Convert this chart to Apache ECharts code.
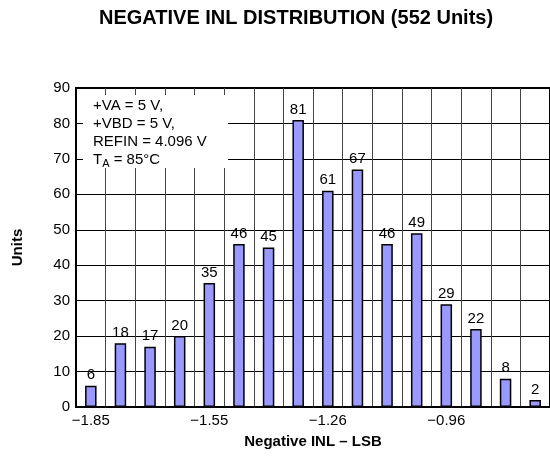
<!DOCTYPE html>
<html>
<head>
<meta charset="utf-8">
<script src="https://cdn.jsdelivr.net/npm/echarts@6/dist/echarts.min.js"></script>
<style>
  html, body { margin: 0; padding: 0; background: #fff; }
  #chart { width: 550px; height: 456px; }
</style>
</head>
<body>
<div id="chart"></div>
<script>
// Histogram bins of negative INL (LSB) and unit counts per bin
const binCenters = ['−1.85', '−1.78', '−1.70', '−1.63', '−1.55', '−1.48', '−1.41', '−1.33',
                    '−1.26', '−1.18', '−1.11', '−1.03', '−0.96', '−0.89', '−0.81', '−0.74'];
const unitCounts = [6, 18, 17, 20, 35, 46, 45, 81, 61, 67, 46, 49, 29, 22, 8, 2];
const yTicks = { min: 0, max: 90, step: 10 };
const conditions = ['+VA = 5 V,', '+VBD = 5 V,', 'REFIN = 4.096 V'];
const tempLine = { sym: 'T', sub: 'A', rest: ' = 85°C' };

const FONT = '"Liberation Sans", Arial, Helvetica, sans-serif';
const chart = echarts.init(document.getElementById('chart'), null, { renderer: 'canvas' });

const noteLines = conditions.map(s => '{t|' + s + '}')
  .concat(['{t|' + tempLine.sym + '}{s|' + tempLine.sub + '}{t|' + tempLine.rest + '}'])
  .join('\n');

chart.setOption({
  animation: false,
  backgroundColor: '#fff',
  textStyle: { fontFamily: FONT, color: '#000' },
  title: {
    text: 'NEGATIVE INL DISTRIBUTION (552 Units)',
    left: 94,
    top: 3,
    textStyle: { fontFamily: FONT, fontSize: 20, fontWeight: 'bold', color: '#000' }
  },
  grid: {
    left: 76, top: 88, width: 477, height: 319,
    show: true, borderColor: '#000', borderWidth: 2, backgroundColor: 'transparent'
  },
  xAxis: {
    type: 'category',
    data: binCenters,
    boundaryGap: true,
    name: 'Negative INL – LSB',
    nameLocation: 'middle',
    nameGap: 27,
    nameTextStyle: { fontFamily: FONT, fontSize: 15, fontWeight: 'bold', color: '#000' },
    axisLine: { show: true, lineStyle: { color: '#000', width: 2 } },
    axisTick: { show: false },
    axisLabel: { interval: 3, margin: 6, fontFamily: FONT, fontSize: 15, color: '#000' },
    splitLine: { show: true, interval: 0, lineStyle: { color: '#444', width: 1 } }
  },
  yAxis: {
    type: 'value',
    min: yTicks.min, max: yTicks.max, interval: yTicks.step,
    name: 'Units',
    nameLocation: 'middle',
    nameGap: 51,
    nameTextStyle: { fontFamily: FONT, fontSize: 15, fontWeight: 'bold', color: '#000' },
    axisLine: { show: true, lineStyle: { color: '#000', width: 2 } },
    axisTick: { show: false },
    axisLabel: { margin: 6, fontFamily: FONT, fontSize: 15, color: '#000' },
    splitLine: { show: true, lineStyle: { color: '#000', width: 1 } }
  },
  graphic: [
    {
      type: 'rect',
      shape: { x: 83, y: 95, width: 145, height: 73 },
      style: { fill: '#fff' },
      z: 5
    },
    {
      type: 'text',
      x: 93, y: 97,
      z: 6,
      style: {
        text: noteLines,
        fill: '#000',
        font: '15px ' + FONT,
        rich: {
          t: { fontFamily: FONT, fontSize: 15, lineHeight: 18, fill: '#000', color: '#000' },
          s: { fontFamily: FONT, fontSize: 11, lineHeight: 18, padding: [8, 0, 0, 0], verticalAlign: 'bottom', color: '#000' }
        }
      }
    }
  ],
  series: [{
    type: 'bar',
    data: unitCounts,
    barWidth: 11.5,
    z: 10,
    itemStyle: { color: '#9999ff', borderColor: '#000', borderWidth: 1.5 },
    label: {
      show: true, position: 'top', distance: 3,
      fontFamily: FONT, fontSize: 15, color: '#000'
    }
  }]
});
</script>
</body>
</html>
